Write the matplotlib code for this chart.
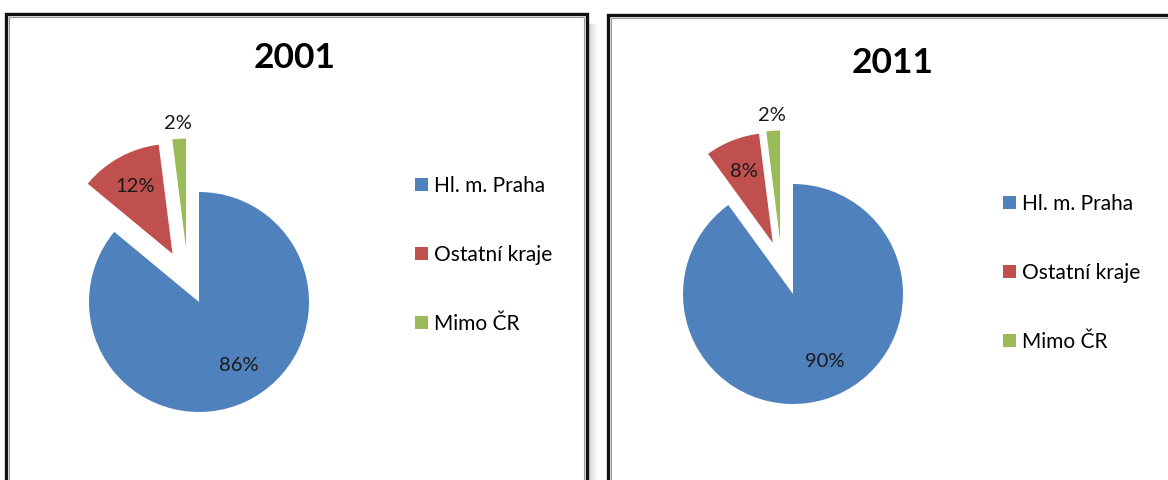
import matplotlib
matplotlib.use('Agg')
import numpy as np
import matplotlib.pyplot as plt
from matplotlib.patches import Rectangle

plt.rcParams['font.family'] = ['Lato', 'DejaVu Sans']

# Data
categories = ['Hl. m. Praha', 'Ostatní kraje', 'Mimo ČR']
years = ['2001', '2011']
shares_2001 = [86, 12, 2]
shares_2011 = [90, 8, 2]
colors = ['#4F81BD', '#C0504D', '#9BBB59']

W, H = 1168, 480
fig = plt.figure(figsize=(W / 100, H / 100), dpi=100)
fig.patch.set_facecolor('white')


def fx(x):
    return x / W


def fy(y):
    return 1 - y / H


def draw_panel(x0, y0, x1, y1, shadow=True):
    """Framed chart area with a double border and a soft shadow on the right."""
    if shadow:
        for i in range(12):
            fig.patches.append(Rectangle((fx(x1 + i), fy(y1)), fx(1), fy(y0 + 10) - fy(y1),
                                         transform=fig.transFigure, color='black',
                                         alpha=0.22 * (1 - i / 12) ** 1.5, lw=0, zorder=-3))
    fig.patches.append(Rectangle((fx(x0), fy(y1)), fx(x1 - x0), fy(y0) - fy(y1),
                                 transform=fig.transFigure, facecolor='white',
                                 edgecolor='#111111', lw=2.4, zorder=-2))
    fig.patches.append(Rectangle((fx(x0 + 3), fy(y1)), fx(x1 - x0 - 6), fy(y0 + 3) - fy(y1),
                                 transform=fig.transFigure, facecolor='none',
                                 edgecolor='#9a9a9a', lw=0.8, zorder=-1))


def draw_pie(cx, cy, values, title, tx, ty, lx, ly):
    S = 352
    L = 1.6
    explode = [0, 0.5, 0.5]
    ax = fig.add_axes([fx(cx - S / 2), fy(cy + S / 2), fx(S), S / H])
    wedges, _, autotexts = ax.pie(values, explode=explode, colors=colors,
                                  startangle=90, counterclock=False, radius=1,
                                  autopct='%1.0f%%', wedgeprops=dict(linewidth=0),
                                  textprops=dict(fontsize=14.5, color='#1a1a1a'))
    # pie() resets the limits, so set them afterwards
    ax.set_xlim(-L, L)
    ax.set_ylim(-L, L)
    ax.set_aspect('equal')
    ax.axis('off')

    # Excel pushes the thin slice a bit further left than its bisector
    push_turn = [0, 0, 10]
    label_turn = [7, 0, 0]
    factors = [0.68, 0.7, 1.14]
    for w, t, e, pt, lt, f in zip(wedges, autotexts, explode, push_turn, label_turn, factors):
        mid = (w.theta1 + w.theta2) / 2
        a = np.deg2rad(mid + pt)
        c = (e * np.cos(a), e * np.sin(a))
        w.set_center(c)
        b = np.deg2rad(mid + lt)
        t.set_position((c[0] + f * np.cos(b), c[1] + f * np.sin(b)))
        t.set_ha('center')
        t.set_va('center')
    fig.text(fx(tx), fy(ty), title, fontsize=25.5, fontweight='bold',
             ha='center', va='center', color='black')
    fig.legend(wedges, categories, loc='center left', bbox_to_anchor=(fx(lx), fy(ly)),
               frameon=False, fontsize=15, borderpad=0, labelspacing=2.35,
               handlelength=0.6, handleheight=0.6, handletextpad=0.3)


draw_panel(6, 14, 587, 520)
draw_panel(608, 15, 1185, 520, shadow=False)

draw_pie(199, 302, shares_2001, years[0], 295, 58, 405, 255)
draw_pie(793, 294, shares_2011, years[1], 893, 63, 993, 273)

fig.savefig('out.png', dpi=100, facecolor='white')
